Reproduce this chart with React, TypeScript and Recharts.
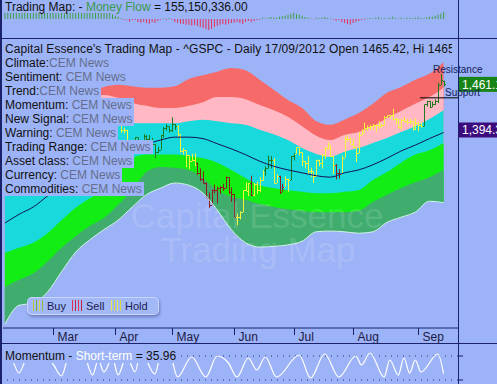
import React from "react";
import { ComposedChart, Area, Line, Bar, Cell, XAxis, YAxis, ReferenceLine } from "recharts";

const BG = "#9DB3F7";
const NAVY = "#19226A";
const FONT = '"Liberation Sans", Arial, sans-serif';
const BUY = "#1F7A1F";
const SELL = "#8E1C1C";
const HOLD = "#F4F43C";

// x = trading days counted from 06/02/2012
const X_DOMAIN: [number, number] = [-0.67, 160.1];
const PRICE_DOMAIN: [number, number] = [1125.84, 1524.19];

const monthTicks = [17, 39, 59, 81, 102, 123, 146];
const monthNames = ["Mar", "Apr", "May", "Jun", "Jul", "Aug", "Sep"];

// daily ^GSPC bars, Feb..Sep
const opens = [
  1344, 1344, 1348, 1351, 1352, 1343, 1351, 1350, 1344, 1358, 1361, 1362, 1357, 1363, 1366, 1367, 1372,
  1366, 1374, 1370, 1364, 1344, 1353, 1366, 1371, 1371, 1396, 1394, 1403, 1404, 1409, 1405, 1402, 1392, 1397, 1416, 1412, 1405, 1403,
  1408, 1419, 1414, 1398, 1398, 1382, 1359, 1368, 1388, 1370, 1370, 1390, 1386, 1377, 1379, 1367, 1371, 1391, 1400, 1403,
  1398, 1406, 1403, 1392, 1369, 1370, 1363, 1355, 1357, 1353, 1339, 1330, 1325, 1305, 1295, 1316, 1316, 1318, 1320, 1318, 1333, 1313,
  1310, 1278, 1278, 1285, 1315, 1314, 1325, 1308, 1324, 1315, 1329, 1343, 1345, 1357, 1356, 1325, 1335, 1313, 1320, 1331, 1329,
  1362, 1365, 1374, 1367, 1355, 1352, 1341, 1341, 1334, 1357, 1353, 1363, 1373, 1377, 1362, 1350, 1339, 1338, 1360, 1386, 1385,
  1379, 1375, 1366, 1391, 1394, 1401, 1402, 1403, 1405, 1404, 1403, 1405, 1415, 1418, 1418, 1413, 1413, 1402, 1411, 1410, 1409, 1410, 1399,
  1407, 1404, 1403, 1433, 1438, 1429, 1433, 1437, 1460, 1465.42,
];
const highs = [
  1345, 1350, 1352, 1357, 1352, 1353, 1351, 1356, 1359, 1364, 1368, 1362, 1364, 1368, 1371, 1373, 1378,
  1378, 1374, 1371, 1364, 1355, 1369, 1374, 1372, 1396, 1399, 1403, 1406, 1410, 1409, 1407, 1402, 1399, 1417, 1420, 1414, 1405, 1410,
  1422, 1420, 1414, 1401, 1398, 1384, 1373, 1388, 1388, 1379, 1392, 1391, 1391, 1387, 1379, 1375, 1391, 1402, 1406, 1403,
  1415, 1406, 1404, 1392, 1373, 1370, 1363, 1365, 1366, 1353, 1345, 1341, 1326, 1312, 1316, 1323, 1320, 1321, 1324, 1334, 1333, 1319,
  1310, 1283, 1286, 1315, 1326, 1325, 1335, 1325, 1327, 1333, 1343, 1348, 1363, 1362, 1359, 1337, 1335, 1324, 1334, 1331, 1362,
  1366, 1374, 1374, 1367, 1355, 1362, 1346, 1341, 1357, 1357, 1365, 1375, 1381, 1377, 1362, 1351, 1344, 1363, 1389, 1391, 1387,
  1386, 1375, 1395, 1399, 1408, 1404, 1405, 1406, 1405, 1410, 1407, 1417, 1418, 1418, 1427, 1414, 1413, 1413, 1416, 1413, 1413, 1410, 1414,
  1409, 1408, 1433, 1438, 1438, 1437, 1440, 1463, 1475, 1465.63,
];
const lows = [
  1338, 1341, 1344, 1346, 1337, 1343, 1341, 1341, 1341, 1357, 1358, 1355, 1352, 1363, 1354, 1364, 1364,
  1366, 1368, 1362, 1340, 1344, 1353, 1366, 1366, 1371, 1389, 1394, 1401, 1401, 1397, 1400, 1388, 1386, 1397, 1411, 1401, 1391, 1401,
  1404, 1405, 1394, 1393, 1378, 1358, 1359, 1368, 1369, 1365, 1370, 1383, 1373, 1377, 1359, 1366, 1371, 1387, 1397, 1394,
  1395, 1398, 1388, 1367, 1364, 1347, 1344, 1355, 1348, 1336, 1328, 1324, 1305, 1291, 1295, 1311, 1297, 1310, 1314, 1318, 1310, 1299,
  1278, 1267, 1275, 1285, 1314, 1307, 1307, 1307, 1310, 1313, 1328, 1335, 1345, 1345, 1324, 1325, 1310, 1313, 1320, 1313, 1329,
  1356, 1365, 1363, 1348, 1345, 1337, 1333, 1325, 1334, 1348, 1345, 1358, 1371, 1361, 1337, 1330, 1331, 1338, 1360, 1382, 1379,
  1373, 1354, 1366, 1391, 1394, 1397, 1398, 1398, 1395, 1400, 1401, 1404, 1414, 1413, 1411, 1405, 1400, 1398, 1409, 1405, 1406, 1397, 1398,
  1396, 1401, 1403, 1430, 1428, 1429, 1432, 1435, 1460, 1457.55,
];
const closes = [
  1344, 1348, 1351, 1352, 1342, 1351, 1350, 1344, 1358, 1361, 1362, 1357, 1363, 1366, 1367, 1372, 1366,
  1374, 1370, 1364, 1344, 1353, 1366, 1371, 1371, 1396, 1394, 1403, 1404, 1409, 1405, 1402, 1392, 1397, 1416, 1412, 1405, 1403, 1408,
  1419, 1414, 1398, 1398, 1382, 1359, 1368, 1388, 1370, 1370, 1390, 1386, 1377, 1379, 1367, 1371, 1391, 1400, 1403, 1398,
  1406, 1403, 1392, 1369, 1370, 1363, 1355, 1357, 1353, 1339, 1330, 1325, 1305, 1295, 1316, 1316, 1318, 1320, 1318, 1333, 1313, 1310,
  1278, 1278, 1285, 1315, 1314, 1325, 1308, 1324, 1315, 1329, 1343, 1345, 1357, 1356, 1325, 1335, 1313, 1320, 1331, 1329, 1362,
  1365, 1374, 1367, 1355, 1352, 1341, 1341, 1334, 1357, 1353, 1363, 1373, 1377, 1362, 1350, 1339, 1338, 1360, 1386, 1385, 1379,
  1375, 1366, 1391, 1394, 1401, 1402, 1403, 1405, 1404, 1403, 1405, 1415, 1418, 1418, 1413, 1413, 1402, 1411, 1410, 1409, 1410, 1399, 1407,
  1404, 1403, 1433, 1438, 1429, 1433, 1437, 1460, 1466, 1461.19,
];
// b = buy, s = sell, h = hold
const signals = [
  "hhhhhhhhhhhhhhhhh",
  "hhhhhhhhhhhhhhhhhhhhhh",
  "hhhhhhhbbbbbbbbbbbbb",
  "bbhhhhhhhsssssssssssss",
  "shhhhhshhhhbbbhhsshhb",
  "bhhhhhhhhhhhhhhsshhhh",
  "hhhhhhhhhhhhhhhhhhhhhhh",
  "hhbbbbbbbb",
].join("").split("");

// money flow, millions
const moneyFlow = [
  128, 131, 130, 126, 131, 129, 130, 131, 127, 130, 129, 131, 130, 128, 131, 130, 126,
  131, 130, 129, 131, 130, 128, 131, 129, 130, 131, 127, 130, 131, 129, 128, 131, 130, 126, 131, 129, 128, 95,
  70, 48, 20, -18, -20, -62, -24, -22, -66, -85, -64, -88, -105, -70, -90, -45, -20, 12, -22, 18,
  -25, -66, -85, -105, -110, -130, -128, -150, -135, -155, -175, -200, -220, -240, -215, -178, -152, -130, -110, -128, -108, -88,
  -85, -66, -88, -110, -68, -45, -66, -44, -22, -20, 22, 10, 24, 40, 22, 24, 44, 62, 68, 88, 110,
  132, 112, 90, 66, 42, 22, 10, -12, 22, 12, 24, 40, 20, 12, -20, -44, -22, -66, -88, -110, -130,
  -92, -66, -44, -22, -20, 12, 20, 10, 24, 40, 12, 20, 10, 30, 44, 12, 10, 22, 12, 30, 20, 12, 24,
  40, 20, 12, 30, 44, 46, 66, 88, 112, 155,
];

// trading map bands (price units), sampled every 5 days
const bandDays = [0, 5, 10, 15, 20, 25, 30, 35, 40, 45, 50, 55, 60, 65, 70, 75, 80, 85, 90, 95, 100, 105, 110, 115, 120, 125, 130, 135, 140, 145, 150, 155];
const redTop = [1414, 1420, 1425, 1432, 1439, 1445, 1450, 1457, 1460, 1458, 1456, 1456, 1458, 1468, 1473, 1478, 1483, 1480, 1467, 1453, 1439, 1428, 1410, 1405, 1412, 1421, 1434, 1449, 1457, 1467, 1475, 1491];
const pinkTop = [1401, 1406, 1412, 1418, 1425, 1432, 1445, 1446, 1442, 1435, 1431, 1428, 1428, 1431, 1436, 1443, 1443, 1440, 1432, 1425, 1416, 1403, 1390, 1384, 1391, 1395, 1403, 1414, 1424, 1434, 1443, 1456];
const cyanTop = [1350, 1357, 1364, 1370, 1377, 1387, 1395, 1402, 1406, 1407, 1407, 1407, 1407, 1410, 1412, 1410, 1407, 1405, 1398, 1392, 1384, 1373, 1365, 1361, 1368, 1373, 1380, 1387, 1395, 1403, 1413, 1425];
const maLine = [1270, 1282, 1292, 1307, 1322, 1336, 1348, 1359, 1369, 1376, 1379, 1384, 1388, 1388, 1386, 1379, 1372, 1364, 1355, 1348, 1343, 1339, 1335, 1333, 1339, 1343, 1350, 1359, 1369, 1377, 1386, 1394.39];
const greenTop = [1229, 1236, 1243, 1256, 1274, 1291, 1304, 1318, 1343, 1359, 1364, 1364, 1364, 1362, 1359, 1353, 1343, 1332, 1322, 1318, 1315, 1313, 1311, 1311, 1313, 1315, 1329, 1340, 1353, 1364, 1370, 1380];
const darkTop = [1182, 1192, 1201, 1217, 1236, 1252, 1266, 1277, 1295, 1315, 1340, 1347, 1346, 1343, 1332, 1315, 1306, 1302, 1296, 1292, 1289, 1287, 1285, 1285, 1285, 1287, 1299, 1309, 1318, 1326, 1333, 1343];
const darkBottom = [1131, 1157, 1160, 1175, 1203, 1230, 1247, 1261, 1274, 1292, 1309, 1318, 1325, 1322, 1311, 1288, 1261, 1243, 1237, 1238, 1240, 1245, 1258, 1259, 1258, 1256, 1258, 1271, 1278, 1285, 1300, 1298];

const supportLevel = 1442;
const supportFrom = 146.7;

// short-term momentum turning points
const momDays = [0, 2, 5, 7, 10, 12, 14, 17, 20, 22, 25, 28, 31, 33, 35, 38, 40, 43, 46, 48, 53, 55, 58, 61, 66, 71, 75, 79, 82, 86, 89, 92, 96, 104, 108, 113, 118, 124, 126, 129, 134, 136, 139, 141, 143, 145, 147, 153, 155];
const momVals = [90, 80, 37.5, 65, 90, 65, 82.5, 60, 30, 70, 95, 82.5, 32.5, 70, 40, 75, 32.5, 80, 40, 90, 35, 80, 90, 27.5, 77.5, 27.5, 80, 62.5, 27.5, 75, 45, 77.5, 27.5, 82.5, 25, 85, 27.5, 80, 57.5, 87.5, 27.5, 70, 32.5, 75, 37.5, 70, 40, 85, 35.96];

const labelNames = ["Climate:", "Sentiment: ", "Trend:", "Momentum: ", "New Signal: ", "Warning: ", "Trading Range: ", "Asset class: ", "Currency: ", "Commodities: "];

const bars = closes.map((c, i) => ({ i, o: opens[i], h: highs[i], l: lows[i], c, s: signals[i] }));
const flow = moneyFlow.map((v, i) => ({ i, v }));
const bands = bandDays.map((d, k) => ({
  i: d, r0: redTop[k], r1: pinkTop[k], r2: cyanTop[k], ma: maLine[k],
  g0: greenTop[k], g1: darkTop[k], g2: darkBottom[k],
}));
const mom = momDays.map((d, k) => ({ i: d, v: momVals[k] }));

function OhlcShape(props: any) {
  const { x, y, width, height, payload } = props;
  if (x == null || y == null || !payload) return null;
  const col = payload.s === "b" ? BUY : payload.s === "s" ? SELL : HOLD;
  const cx = Math.round(x + width / 2);
  const top = Math.min(y, y + height);
  const h = Math.abs(height);
  const span = payload.h - payload.l || 1;
  const yo = top + ((payload.h - payload.o) / span) * h;
  const yc = top + ((payload.h - payload.c) / span) * h;
  return (
    <g>
      <rect x={cx} y={top} width={1} height={Math.max(1, h)} fill={col} />
      <rect x={cx - 1} y={Math.round(yo)} width={1} height={1} fill={col} />
      <rect x={cx + 1} y={Math.round(yc)} width={1} height={1} fill={col} />
    </g>
  );
}

function MonthTick(props: any) {
  const { x, payload } = props;
  const k = monthTicks.indexOf(payload.value);
  const px = Math.round(x) + 0.5;
  return (
    <g>
      <line x1={px} x2={px} y1={328} y2={335} stroke={NAVY} />
      <text x={px + 4} y={341} fontSize={12} fontFamily={FONT} fill="#1A1A44">{monthNames[k]}</text>
    </g>
  );
}

function PriceTick(props: any) {
  const { y, payload } = props;
  const v = payload.value as number;
  const isClose = v > 1430;
  const cy = isClose ? y : y - 3;
  const txt = v.toLocaleString("en-US", { minimumFractionDigits: 2, maximumFractionDigits: 2 });
  return (
    <g>
      <rect x={459} y={cy - 7} width={40} height={15} fill={isClose ? "#178417" : "#3C0C7E"} />
      <text x={462} y={cy + 5} fontSize={12} fontFamily={FONT} fill="#fff">{txt}</text>
    </g>
  );
}

function HatchIcon({ colors }: { colors: string[] }) {
  return (
    <svg width={12} height={11} style={{ verticalAlign: "-1px", marginRight: 3 }}>
      {colors.map((c, k) => <rect key={k} x={1 + k * 3} y={0} width={1} height={11} fill={c} />)}
    </svg>
  );
}

export default function App() {
  return (
    <div style={{ position: "fixed", left: 0, top: 0, width: 497, height: 384, background: BG, overflow: "hidden", fontFamily: FONT }}>
      {/* money flow panel */}
      <div style={{ position: "absolute", left: 0, top: 0 }}>
        <ComposedChart width={497} height={38} data={flow} margin={{ top: 12, right: 39, bottom: 4, left: 3 }}>
          <XAxis type="number" dataKey="i" domain={X_DOMAIN} allowDataOverflow hide />
          <YAxis domain={[-330, 150]} allowDataOverflow hide />
          <Bar dataKey="v" barSize={1} isAnimationActive={false}>
            {flow.map((d) => <Cell key={d.i} fill={d.v >= 0 ? "#3C9E46" : "#E4305C"} />)}
          </Bar>
        </ComposedChart>
      </div>
      <div style={{ position: "absolute", left: 5, top: 0, fontSize: 12, lineHeight: "14px", color: "#111", whiteSpace: "nowrap" }}>
        Trading Map: - <span style={{ color: "#3A9A4E" }}>Money Flow</span> = 155,150,336.00
      </div>

      {/* main trading map */}
      <div style={{ position: "absolute", left: 0, top: 0 }}>
        <ComposedChart width={497} height={345} data={bars} margin={{ top: 38, right: 0, bottom: 0, left: 3 }}>
          <XAxis type="number" dataKey="i" domain={X_DOMAIN} allowDataOverflow ticks={monthTicks} interval={0}
            tick={(p: any) => <MonthTick {...p} />} tickLine={false} axisLine={{ stroke: NAVY }} height={17} />
          <YAxis orientation="right" width={39} domain={PRICE_DOMAIN} allowDataOverflow ticks={[1461.19, 1394.39]} interval={0}
            tick={(p: any) => <PriceTick {...p} />} tickLine={false} axisLine={false} />
          <Area data={bands} dataKey={(d: any) => [d.g2, d.r0]} type="monotone" stroke="none" fill="#F66A6A" fillOpacity={1} isAnimationActive={false} />
          <Area data={bands} dataKey={(d: any) => [d.g2, d.r1]} type="monotone" stroke="none" fill="#FFB8C4" fillOpacity={1} isAnimationActive={false} />
          <Area data={bands} dataKey={(d: any) => [d.g2, d.r2]} type="monotone" stroke="none" fill="#18D9DB" fillOpacity={1} isAnimationActive={false} />
          <Area data={bands} dataKey={(d: any) => [d.g2, d.g0]} type="monotone" stroke="none" fill="#12EE14" fillOpacity={1} isAnimationActive={false} />
          <Area data={bands} dataKey={(d: any) => [d.g2, d.g1]} type="monotone" stroke="none" fill="#40AD6E" fillOpacity={1} isAnimationActive={false} />
          <Line data={bands} dataKey="g2" type="monotone" stroke="#D4F2EE" strokeWidth={1} dot={false} isAnimationActive={false} />
          <Line data={bands} dataKey="ma" type="monotone" stroke="#12125C" strokeWidth={1} dot={false} isAnimationActive={false} />
          <Bar dataKey={(d: any) => [d.l, d.h]} barSize={1} isAnimationActive={false} shape={(p: any) => <OhlcShape {...p} />} />
          <ReferenceLine segment={[{ x: supportFrom, y: supportLevel }, { x: X_DOMAIN[1], y: supportLevel }]} stroke="#000" strokeWidth={1} ifOverflow="visible" />
        </ComposedChart>
      </div>

      {/* momentum panel */}
      <div style={{ position: "absolute", left: 0, top: 343 }}>
        <ComposedChart width={497} height={45} data={mom} margin={{ top: 5, right: 0, bottom: 0, left: 3 }}>
          <XAxis type="number" dataKey="i" domain={X_DOMAIN} allowDataOverflow hide height={0} />
          <YAxis orientation="right" width={39} domain={[0, 100]} allowDataOverflow ticks={[20, 80]} tickSize={5}
            tickFormatter={() => ""} axisLine={false} tickLine={{ stroke: NAVY }} />
          <ReferenceLine y={80} stroke="#22306E" strokeDasharray="1 5" />
          <ReferenceLine y={20} stroke="#22306E" strokeDasharray="1 5" />
          <Line dataKey="v" type="monotone" stroke="#FFFFFF" strokeWidth={1.2} dot={false} isAnimationActive={false} />
        </ComposedChart>
      </div>

      {/* watermark and level notes */}
      <svg width={497} height={384} style={{ position: "absolute", left: 0, top: 0, pointerEvents: "none" }}>
        <text x={257} y={228} textAnchor="middle" fontSize={35} fontFamily={FONT} fill="#FFFFFF" fillOpacity={0.13}>Capital Essence</text>
        <text x={258} y={262} textAnchor="middle" fontSize={35} fontFamily={FONT} fill="#FFFFFF" fillOpacity={0.13}>Trading Map</text>
        <text x={433} y={73} fontSize={10} fontFamily={FONT} fill="#14205A">Resistance</text>
        <text x={445} y={96} fontSize={10} fontFamily={FONT} fill="#14205A">Support</text>
      </svg>

      {/* title and news rows */}
      <div style={{ position: "absolute", left: 5, top: 42, width: 447, overflow: "hidden", whiteSpace: "nowrap", fontSize: 12, lineHeight: "14px", letterSpacing: "0.08px", color: "#111" }}>
        Capital Essence's Trading Map - ^GSPC - Daily 17/09/2012 Open 1465.42, Hi 1465.63, Lo 1457.55, Close 1461.19
      </div>
      {labelNames.map((name, k) => (
        <div key={name} style={{ position: "absolute", left: 3, top: 56 + k * 14, height: 14, lineHeight: "14px", fontSize: 12, background: BG, padding: "0 2px", whiteSpace: "nowrap", color: "#111" }}>
          {name}<span style={{ color: "#646E8C" }}>CEM News</span>
        </div>
      ))}

      {/* legend */}
      <div style={{ position: "absolute", left: 27, top: 297, width: 130, height: 16, borderRadius: 5, border: "1px solid rgba(205,218,255,0.9)", background: "#A3B8F7", boxShadow: "1px 2px 3px rgba(20,30,90,0.35)", fontSize: 11, lineHeight: "16px", color: "#1A1A50", whiteSpace: "nowrap" }}>
        <span style={{ position: "absolute", left: 4 }}><HatchIcon colors={["#B8C43C", "#7DAE3A", "#D8D848", "#9CB640"]} />Buy</span>
        <span style={{ position: "absolute", left: 43 }}><HatchIcon colors={["#E0304E", "#C82040", "#E0304E", "#C82040"]} />Sell</span>
        <span style={{ position: "absolute", left: 82 }}><HatchIcon colors={["#E8E850", "#D8D840", "#E8E850", "#D8D840"]} />Hold</span>
      </div>

      {/* momentum title */}
      <div style={{ position: "absolute", left: 3, top: 349, height: 14, lineHeight: "14px", fontSize: 12, background: BG, padding: "0 2px", whiteSpace: "nowrap", color: "#111" }}>
        Momentum - <span style={{ color: "#FFFFFF" }}>Short-term</span> = 35.96
      </div>

      {/* frame lines */}
      <div style={{ position: "absolute", left: 0, top: 0, width: 2, height: 384, background: NAVY }} />
      <div style={{ position: "absolute", left: 0, top: 38, width: 497, height: 1, background: NAVY }} />
      <div style={{ position: "absolute", left: 0, top: 343, width: 497, height: 1, background: NAVY }} />
      <div style={{ position: "absolute", left: 458, top: 0, width: 1, height: 384, background: NAVY }} />
    </div>
  );
}
